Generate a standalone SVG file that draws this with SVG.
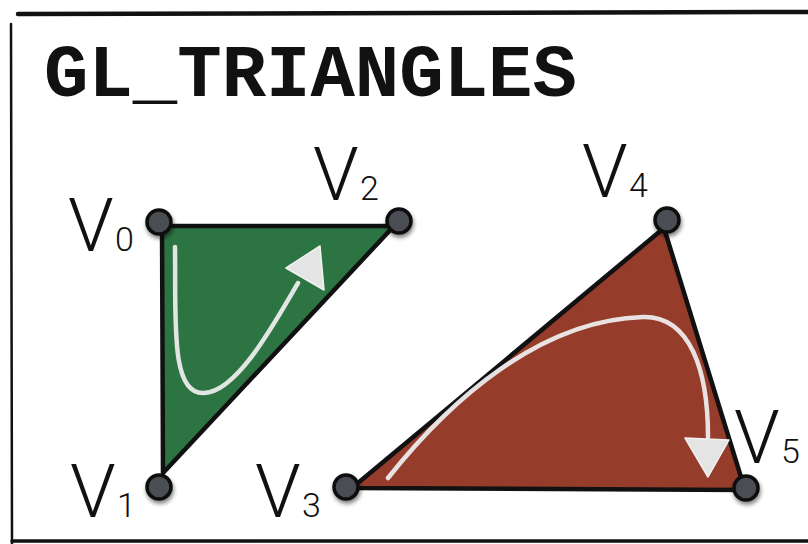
<svg xmlns="http://www.w3.org/2000/svg" width="808" height="544" viewBox="0 0 808 544">
<style>
.title{font-family:"Courier New","Liberation Mono",monospace;font-weight:bold;font-size:74px;fill:#111}
.v{font-family:Roboto,"Liberation Sans",sans-serif;font-weight:300;font-size:74px;fill:#111}
.sub{font-size:34px}
.dot{fill:#4b4e54;stroke:#111;stroke-width:3.5}
.tri{stroke:#111;stroke-width:4.5;stroke-linejoin:round}
.chalk{fill:none;stroke:#ececec;stroke-width:4.5;stroke-linecap:round;opacity:0.95}
.head{fill:#e4e4e4;stroke:#f2f2f2;stroke-width:1.5;stroke-linejoin:round}
.frame{fill:none;stroke:#111;stroke-linecap:round}
</style>
<defs>
<filter id="sh" x="-50%" y="-50%" width="200%" height="200%">
<feGaussianBlur in="SourceAlpha" stdDeviation="2"/>
<feOffset dx="1" dy="3" result="b"/>
<feComponentTransfer><feFuncA type="linear" slope="0.5"/></feComponentTransfer>
<feMerge><feMergeNode/><feMergeNode in="SourceGraphic"/></feMerge>
</filter>
</defs>
<rect width="808" height="544" fill="#ffffff"/>
<g id="frame">
<path class="frame" d="M18,14 L808,12" stroke-width="4.5"/>
<path class="frame" d="M11,24 L12,544" stroke-width="2.5" stroke="#333"/>
<path class="frame" d="M12,541 L808,541" stroke-width="3.5"/>
</g>
<g id="title"><text class="title" x="44" y="96">GL_TRIANGLES</text></g>
<g id="tri-green"><polygon class="tri" points="162,226 394,226 163,473" fill="#2d7443"/></g>
<g id="tri-red"><polygon class="tri" points="352,488 664,228 745,490" fill="#963c2b"/></g>
<g id="connectors">
<path class="chalk" d="M175,247 C176,320 170,395 204,393 C236,392 272,328 298,283"/>
<polygon class="head" points="286,268 320,246 324,290"/>
<path class="chalk" d="M388,478 C450,400 540,320 643,317 C690,316 708,370 708,437"/>
<polygon class="head" points="685,438 729,440 708,477"/>
</g>
<g id="v0"><circle class="dot" cx="159" cy="222" r="12" filter="url(#sh)"/><text class="v" x="68" y="251">V<tspan class="sub" x="115">0</tspan></text></g>
<g id="v1"><circle class="dot" cx="159" cy="487" r="12" filter="url(#sh)"/><text class="v" x="70" y="517">V<tspan class="sub" x="117">1</tspan></text></g>
<g id="v2"><circle class="dot" cx="399" cy="221" r="12" filter="url(#sh)"/><text class="v" x="313" y="200">V<tspan class="sub" x="360">2</tspan></text></g>
<g id="v3"><circle class="dot" cx="346" cy="487" r="12" filter="url(#sh)"/><text class="v" x="255" y="517">V<tspan class="sub" x="302">3</tspan></text></g>
<g id="v4"><circle class="dot" cx="667" cy="220" r="12" filter="url(#sh)"/><text class="v" x="582" y="197">V<tspan class="sub" x="629">4</tspan></text></g>
<g id="v5"><circle class="dot" cx="746" cy="488" r="12" filter="url(#sh)"/><text class="v" x="734" y="463">V<tspan class="sub" x="781">5</tspan></text></g>
</svg>
